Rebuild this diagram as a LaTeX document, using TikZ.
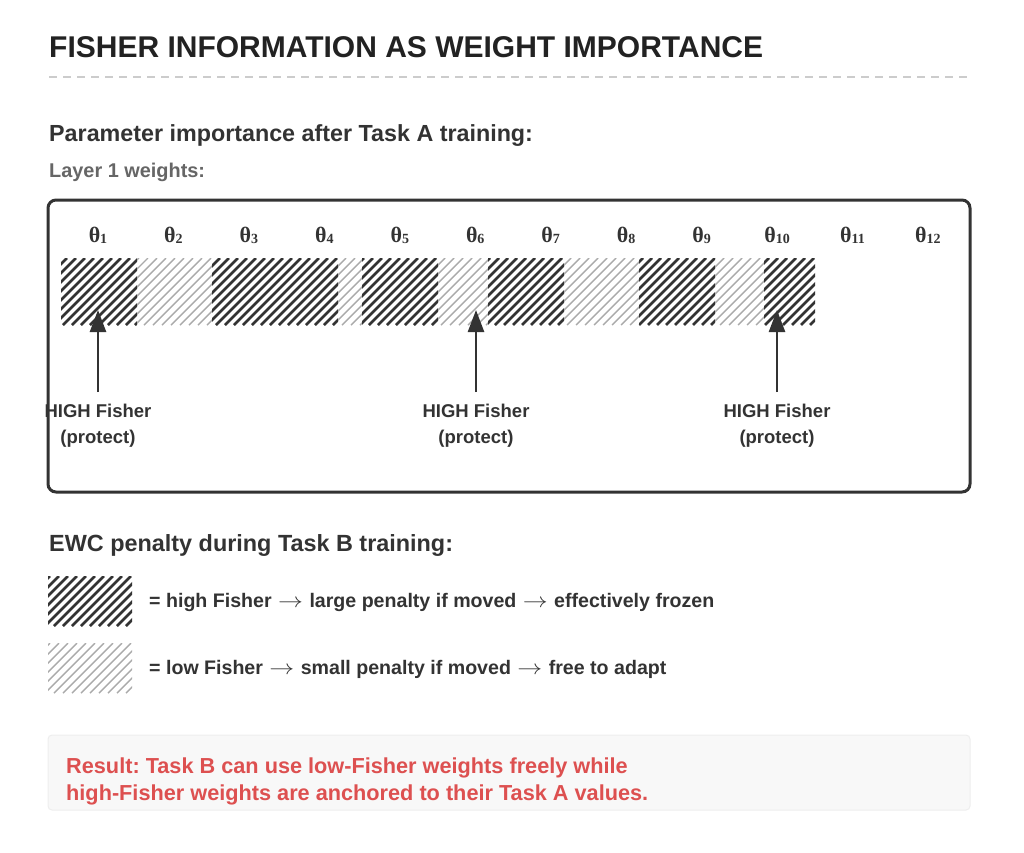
\documentclass[tikz,border=0pt]{standalone}
\usepackage{fontspec}
\setmainfont{Liberation Sans}
\newfontfamily\thetafont{Liberation Serif}
\usetikzlibrary{arrows.meta}
\frenchspacing
\definecolor{ink}{HTML}{333333}
\definecolor{titlec}{HTML}{222222}
\definecolor{subc}{HTML}{666666}
\definecolor{dashc}{HTML}{CCCCCC}
\definecolor{darkh}{HTML}{333333}
\definecolor{lighth}{HTML}{AAAAAA}
\definecolor{resred}{HTML}{DD5050}
\definecolor{resbg}{HTML}{F8F8F8}
\definecolor{resbd}{HTML}{EEEEEE}
\newcommand\hatchrect[5]{%
  \begin{scope}
    \clip (#1,#2) rectangle (#3,#4);
    \pgfmathsetmacro\hh{#4-#2}
    \draw[#5] foreach \k in {-81,-72,...,900} {(\k,#4) -- ++(\hh,-\hh)};
  \end{scope}}
\newcommand\arr{\kern1pt\scalebox{1.2}[1]{\ensuremath{\rightarrow}}\kern1pt}
\tikzset{
  darkhatch/.style={draw=darkh, line width=2.6pt},
  lighthatch/.style={draw=lighth, line width=1.4pt},
  txt/.style={inner sep=0pt, anchor=base west, text=ink},
  ctxt/.style={inner sep=0pt, anchor=base, text=ink, font=\bfseries\fontsize{18.5}{22}\selectfont},
  thlab/.style={inner sep=0pt, anchor=base, text=ink, font=\thetafont\bfseries\fontsize{22}{24}\selectfont},
  uparrow/.style={draw=ink, line width=2.5pt, -{Triangle[width=16pt,length=22pt]}},
}
\newcommand\thsub[1]{\raisebox{-1.5pt}{\fontsize{14}{14}\selectfont #1}}
\begin{document}
\begin{tikzpicture}[x=1pt,y=-1pt]
\useasboundingbox (0,0) rectangle (1024,852);
\fill[white] (0,0) rectangle (1024,852);

% title
\node[txt, text=titlec, font=\bfseries\fontsize{30}{36}\selectfont] (title) at (49,57) {FISHER INFORMATION AS WEIGHT IMPORTANCE};
\draw[dashc, line width=2pt, dash pattern=on 8pt off 6pt] (49,77) -- (970,77);

\node[txt, font=\bfseries\fontsize{23.3}{28}\selectfont] (h1) at (49,141) {Parameter importance after Task A training:};
\node[txt, text=subc, font=\bfseries\fontsize{19.9}{24}\selectfont] (layer) at (49,177) {Layer 1 weights:};

% outer box
\draw[ink, line width=3pt, rounded corners=8pt] (48,200) rectangle (970,492);

% theta labels
\foreach \i in {1,...,12}{
  \pgfmathsetmacro\tx{98+75.45*(\i-1)}
  \node[thlab] (th\i) at (\tx,242) {θ\thsub{\i}};
}

% hatched bar
\hatchrect{61}{258}{137}{325}{darkhatch}
\hatchrect{137}{258}{212}{325}{lighthatch}
\hatchrect{212}{258}{338}{325}{darkhatch}
\hatchrect{338}{258}{362}{325}{lighthatch}
\hatchrect{362}{258}{438}{325}{darkhatch}
\hatchrect{438}{258}{488}{325}{lighthatch}
\hatchrect{488}{258}{564}{325}{darkhatch}
\hatchrect{564}{258}{639}{325}{lighthatch}
\hatchrect{639}{258}{715}{325}{darkhatch}
\hatchrect{715}{258}{764}{325}{lighthatch}
\hatchrect{764}{258}{815}{325}{darkhatch}

% arrows and labels
\foreach \n/\ax in {a/98, b/476, c/777}{
  \coordinate (\n s) at (\ax,392);
  \coordinate (\n e) at (\ax,310);
  \draw[uparrow] (\n s) -- (\n e);
  \node[ctxt] (\n l1) at (\ax,417) {HIGH Fisher};
  \node[ctxt] (\n l2) at (\ax,443) {(protect)};
}

% EWC section
\node[txt, font=\bfseries\fontsize{23.4}{28}\selectfont] (h2) at (49,551) {EWC penalty during Task B training:};
\hatchrect{48}{576}{132}{626}{darkhatch}
\hatchrect{48}{643}{132}{693}{lighthatch}
\node[txt, font=\bfseries\fontsize{19.6}{24}\selectfont] (leg1) at (149,607) {= high Fisher \arr{} large penalty if moved \arr{} effectively frozen};
\node[txt, font=\bfseries\fontsize{19.6}{24}\selectfont] (leg2) at (149,674) {= low Fisher \arr{} small penalty if moved \arr{} free to adapt};

% result box
\draw[resbd, fill=resbg, line width=1pt, rounded corners=4pt] (48,735) rectangle (970,810);
\node[txt, text=resred, font=\bfseries\fontsize{21.7}{25}\selectfont] (r1) at (66,773) {Result: Task B can use low-Fisher weights freely while};
\node[txt, text=resred, font=\bfseries\fontsize{21.7}{25}\selectfont] (r2) at (66,800) {high-Fisher weights are anchored to their Task A values.};
\end{tikzpicture}
\end{document}
